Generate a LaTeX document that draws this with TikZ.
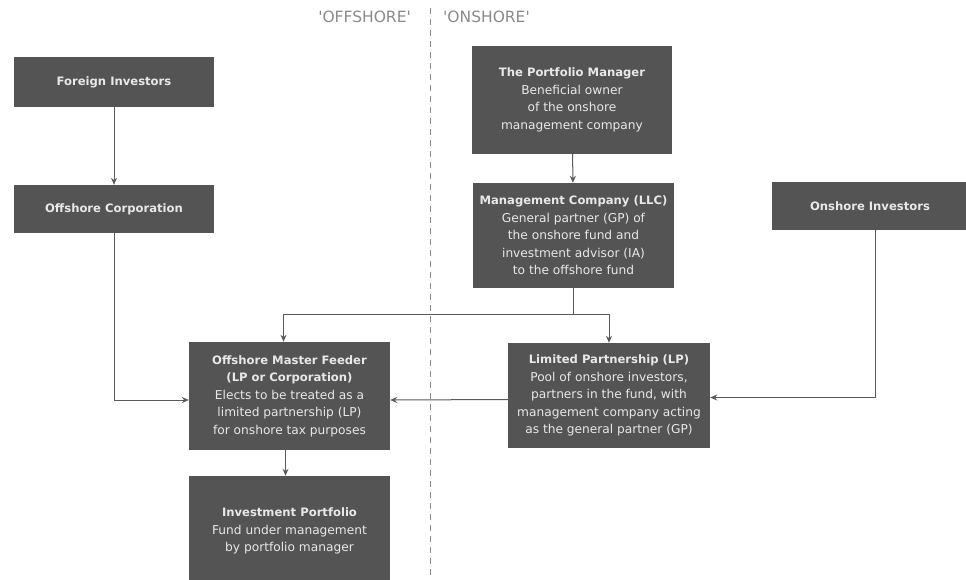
\documentclass[tikz,border=0pt]{standalone}
\usepackage{fontspec}
\setmainfont{DejaVu Sans}
\usetikzlibrary{arrows.meta}
\definecolor{boxfill}{HTML}{545454}
\definecolor{boxtext}{HTML}{E8E8E8}
\definecolor{linecol}{HTML}{5A5A5A}
\definecolor{labelcol}{HTML}{8A8A8A}
\newcommand{\boxtitle}[1]{{\fontsize{11.6}{17.5}\selectfont\bfseries #1}}
\tikzset{
  box/.style={rectangle, fill=boxfill, text=boxtext, align=center, inner sep=2pt,
    font=\fontsize{12.2}{17.5}\selectfont},
  conn/.style={draw=linecol, line width=1pt, -{Stealth[length=7pt,width=6pt]}},
  plainconn/.style={draw=linecol, line width=1pt},
  sidelabel/.style={text=labelcol, font=\fontsize{15.5}{17}\selectfont, inner sep=0pt}
}
\begin{document}
\begin{tikzpicture}[x=1pt,y=-1pt]
\useasboundingbox (0,0) rectangle (966,579);
% divider
\coordinate (dtop) at (430,8);
\coordinate (dbot) at (430,579);
\draw[labelcol, line width=1pt, dash pattern=on 6pt off 5pt] (dtop) -- (dbot);
\node[sidelabel, anchor=east] (offl) at (411,17) {\textquotesingle OFFSHORE\textquotesingle};
\node[sidelabel, anchor=west] (onl) at (443,17) {\textquotesingle ONSHORE\textquotesingle};
% boxes
\node[box, minimum width=200, minimum height=50] (fi) at (114,82) {\boxtitle{Foreign Investors}};
\node[box, minimum width=200, minimum height=48] (oc) at (114,209) {\boxtitle{Offshore Corporation}};
\node[box, minimum width=200, minimum height=108] (pm) at (572,100)
  {\boxtitle{The Portfolio Manager}\\Beneficial owner\\of the onshore\\management company};
\node[box, minimum width=201, minimum height=105] (mc) at (573.5,235.5)
  {\boxtitle{Management Company (LLC)}\\General partner (GP) of\\the onshore fund and\\investment advisor (IA)\\to the offshore fund};
\node[box, minimum width=196, minimum height=48] (oi) at (870,206) {\boxtitle{Onshore Investors}};
\node[box, minimum width=201, minimum height=108] (mf) at (289.5,396)
  {\boxtitle{Offshore Master Feeder}\\\boxtitle{(LP or Corporation)}\\Elects to be treated as a\\limited partnership (LP)\\for onshore tax purposes};
\node[box, minimum width=202, minimum height=105] (lp) at (609,395.5)
  {\boxtitle{Limited Partnership (LP)}\\Pool of onshore investors,\\partners in the fund, with\\management company acting\\as the general partner (GP)};
\node[box, minimum width=201, minimum height=110] (ip) at (289.5,531)
  {\boxtitle{Investment Portfolio}\\Fund under management\\by portfolio manager};
% connectors
\draw[conn] (fi) -- (oc);
\draw[conn] (oc.south) |- ([yshift=-4pt]mf.west);
\draw[conn] (pm) -- (mc);
\coordinate (bus) at (573.5,314);
\draw[plainconn] (mc.south) -- (bus);
\draw[conn] (bus) -| ([xshift=-6pt]mf.north);
\draw[conn] (bus) -| (lp.north);
\draw[conn] ([xshift=5pt]oi.south) |- ([yshift=-2pt]lp.east);
\draw[conn] ([yshift=-4pt]lp.west) -- ([yshift=-4pt]mf.east);
\draw[conn] ([xshift=-4pt]mf.south) -- ([xshift=-4pt]ip.north);
\end{tikzpicture}
\end{document}
